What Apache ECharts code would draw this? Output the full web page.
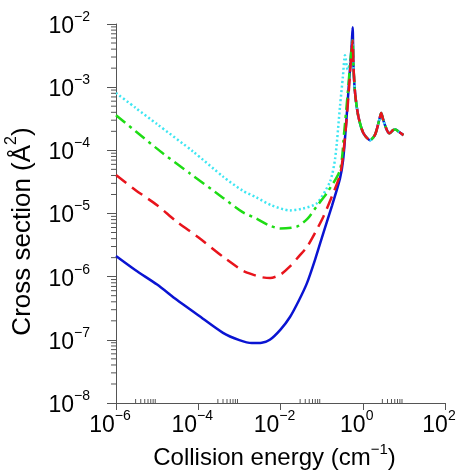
<!DOCTYPE html>
<html><head><meta charset="utf-8">
<script src="https://cdn.jsdelivr.net/npm/echarts@6/dist/echarts.min.js"></script>
<style>html,body{margin:0;padding:0;background:#fff}#c{width:459px;height:470px}</style>
</head><body><div id="c"></div>
<script>
// Collision energy (cm^-1) and cross section (Å^2)
const blueE     = [1e-6, 3e-6, 1e-5, 3e-5, 1e-4, 4e-4, 1e-3, 2e-3, 3.5e-3, 5.5e-3, 1e-2, 1.7e-2, 2.8e-2, 4.4e-2, 7e-2, 0.11, 0.18, 0.28, 0.333, 0.40, 0.468, 0.537, 0.568];
const blueSigma = [2.12e-6, 1.26e-6, 7.5e-7, 4.3e-7, 2.45e-7, 1.29e-7, 9.9e-8, 8.9e-8, 9.0e-8, 1.0e-7, 1.45e-7, 2.3e-7, 4.2e-7, 7.9e-7, 1.9e-6, 4.9e-6, 1.35e-5, 3.6e-5, 7e-5, 3e-4, 1.3e-3, 4.6e-3, 8.9e-3];

const redE      = [1e-6, 3e-6, 1e-5, 3e-5, 1e-4, 4.1e-4, 1.2e-3, 2.2e-3, 3.5e-3, 5.6e-3, 1e-2, 1.7e-2, 2.8e-2, 4.4e-2, 7e-2, 0.11, 0.18, 0.28, 0.33, 0.40, 0.47, 0.525, 0.565];
const redSigma  = [4.07e-5, 2.34e-5, 1.35e-5, 7.4e-6, 4.2e-6, 2.04e-6, 1.25e-6, 1.07e-6, 9.8e-7, 9.5e-7, 1.08e-6, 1.45e-6, 2.1e-6, 2.95e-6, 5e-6, 8.9e-6, 1.9e-5, 4.1e-5, 7.9e-5, 2.8e-4, 1.1e-3, 3.2e-3, 5.5e-3];

const greenE     = [1e-6, 3e-6, 1.4e-5, 6.3e-5, 4.1e-4, 1.2e-3, 2.6e-3, 5e-3, 9.8e-3, 2.5e-2, 4.5e-2, 7.6e-2, 0.14, 0.28, 0.355, 0.43, 0.50, 0.565];
const greenSigma = [3.6e-4, 2.0e-4, 8.9e-5, 4.3e-5, 1.75e-5, 1.05e-5, 8.3e-6, 6.6e-6, 5.8e-6, 6.2e-6, 8.2e-6, 1.3e-5, 2.2e-5, 4.9e-5, 2e-4, 7.9e-4, 2.5e-3, 5.5e-3];

const cyanE     = [1e-6, 3e-6, 1e-5, 7.6e-5, 4.1e-4, 1.2e-3, 2.6e-3, 6e-3, 1.7e-2, 3.5e-2, 7.6e-2, 0.16, 0.214, 0.28, 0.33, 0.37, 0.43, 0.50, 0.565];
const cyanSigma = [8.1e-4, 4.7e-4, 2.6e-4, 9.5e-5, 3.8e-5, 2.3e-5, 1.8e-5, 1.35e-5, 1.12e-5, 1.2e-5, 1.45e-5, 3.2e-5, 7.6e-5, 5e-4, 1.5e-3, 3.2e-3, 1.9e-3, 2.6e-3, 5.5e-3];

// shared high-energy part (all curves coincide)
const tailE     = [0.596, 0.653, 0.785, 1.04, 1.51, 2.0, 2.51, 2.81, 3.16, 3.98, 4.47, 5.5, 6.31, 7.24, 9.77];
const tailSigma = [2.09e-3, 7.9e-4, 3.4e-4, 1.86e-4, 1.45e-4, 1.78e-4, 3.0e-4, 3.9e-4, 3.0e-4, 2.0e-4, 1.86e-4, 2.1e-4, 2.14e-4, 2.0e-4, 1.74e-4];

// minor tick positions
const xMinorTicks = [3e-6,4e-6,5e-6,6e-6,7e-6,8e-6,9e-6, 3e-4,4e-4,5e-4,6e-4,7e-4,8e-4,9e-4, 3e-2,4e-2,5e-2,6e-2,7e-2,8e-2,9e-2, 3,4,5,6,7,8,9];
const yMinorTicks = [2e-8,3e-8,4e-8,5e-8,6e-8,7e-8,8e-8,9e-8, 2e-7,3e-7,4e-7,5e-7,6e-7,7e-7,8e-7,9e-7, 2e-6,3e-6,4e-6,5e-6,6e-6,7e-6,8e-6,9e-6,
  2e-5,3e-5,4e-5,5e-5,6e-5,7e-5,8e-5,9e-5, 2e-4,3e-4,4e-4,5e-4,6e-4,7e-4,8e-4,9e-4, 2e-3,3e-3,4e-3,5e-3,6e-3,7e-3,8e-3,9e-3];

const X_MIN = 1e-6, X_MAX = 1e2, Y_MIN = 1e-8, Y_MAX = 1e-2;

function pairs(e, s) { return e.map((v, i) => [v, s[i]]); }
function withTail(e, s) { return pairs(e, s).concat(pairs(tailE, tailSigma)); }

const FONT = 'Liberation Sans, Arial, sans-serif';
const AX = '#555';
function powLabel(v) {
  const ex = Math.round(Math.log10(v));
  return '{b|10}{s|' + (ex < 0 ? '\u2212' + (-ex) : ex) + '}';
}
const labelRich = {
  b: { fontSize: 23, fontFamily: FONT, color: '#000', lineHeight: 28, verticalAlign: 'bottom' },
  s: { fontSize: 14, fontFamily: FONT, color: '#000', lineHeight: 28, verticalAlign: 'top' }
};

const chart = echarts.init(document.getElementById('c'), null, { renderer: 'canvas' });
chart.setOption({
  animation: false,
  backgroundColor: '#fff',
  grid: { left: 116, right: 14, top: 24, bottom: 67, containLabel: false, outerBoundsMode: 'none' },
  xAxis: {
    type: 'log', logBase: 10, min: X_MIN, max: X_MAX, interval: 2,
    axisLine: { show: true, lineStyle: { color: AX, width: 1 } },
    axisTick: { show: true, inside: false, length: 7, lineStyle: { color: AX } },
    splitLine: { show: false }, minorTick: { show: false },
    axisLabel: { formatter: powLabel, rich: labelRich, margin: 6, padding: [0, 12, 0, 0], showMinLabel: true, showMaxLabel: true },
    name: '{t|Collision energy (cm}{s|\u22121}{t|)}',
    nameLocation: 'middle', nameGap: 37,
    nameTextStyle: { padding: [0, 12, 0, 0], rich: {
      t: { fontSize: 24, fontFamily: FONT, color: '#000', lineHeight: 28, verticalAlign: 'bottom' },
      s: { fontSize: 15, fontFamily: FONT, color: '#000', lineHeight: 28, verticalAlign: 'top' } } }
  },
  yAxis: {
    type: 'log', logBase: 10, min: Y_MIN, max: Y_MAX, interval: 1,
    axisLine: { show: true, lineStyle: { color: AX, width: 1 } },
    axisTick: { show: true, inside: false, length: 9, lineStyle: { color: AX } },
    splitLine: { show: false }, minorTick: { show: false },
    axisLabel: { formatter: powLabel, rich: labelRich, margin: 26, showMinLabel: true, showMaxLabel: true },
    name: '{t|Cross section (\u00c5}{s|2}{t|)}',
    nameLocation: 'middle', nameGap: 80,
    nameTextStyle: { padding: [0, 36, 0, 0], rich: {
      t: { fontSize: 26, fontFamily: FONT, color: '#000', lineHeight: 32, verticalAlign: 'bottom' },
      s: { fontSize: 16, fontFamily: FONT, color: '#000', lineHeight: 32, verticalAlign: 'top' } } }
  },
  series: [
    { type: 'line', name: 'cyan', data: withTail(cyanE, cyanSigma), showSymbol: false, smooth: 0.25,
      lineStyle: { color: '#3ee6f2', width: 2.5, type: [2, 2.5] }, z: 2 },
    { type: 'line', name: 'green', data: withTail(greenE, greenSigma), showSymbol: false, smooth: 0.25,
      lineStyle: { color: '#1edc14', width: 2.5, type: [12, 5, 3, 5] }, z: 3 },
    { type: 'line', name: 'red', data: withTail(redE, redSigma), showSymbol: false, smooth: 0.25,
      lineStyle: { color: '#e8141c', width: 2.5, type: [13, 7] }, z: 4 },
    { type: 'line', name: 'blue', data: withTail(blueE, blueSigma), showSymbol: false, smooth: 0.25,
      lineStyle: { color: '#0a14d2', width: 2.5, type: 'solid' }, z: 1 },
    { type: 'custom', name: 'xminor', clip: false, silent: true, z: 10,
      data: xMinorTicks.map(v => [v, Y_MIN]),
      renderItem: function (params, api) {
        const p = api.coord([api.value(0), api.value(1)]);
        return { type: 'line', shape: { x1: p[0], y1: p[1], x2: p[0], y2: p[1] - 4 }, style: { stroke: AX, lineWidth: 1 } };
      } },
    { type: 'custom', name: 'yminor', clip: false, silent: true, z: 10,
      data: yMinorTicks.map(v => [X_MIN, v]),
      renderItem: function (params, api) {
        const p = api.coord([api.value(0), api.value(1)]);
        return { type: 'line', shape: { x1: p[0] - 5, y1: p[1], x2: p[0], y2: p[1] }, style: { stroke: AX, lineWidth: 1 } };
      } }
  ]
});
</script></body></html>
